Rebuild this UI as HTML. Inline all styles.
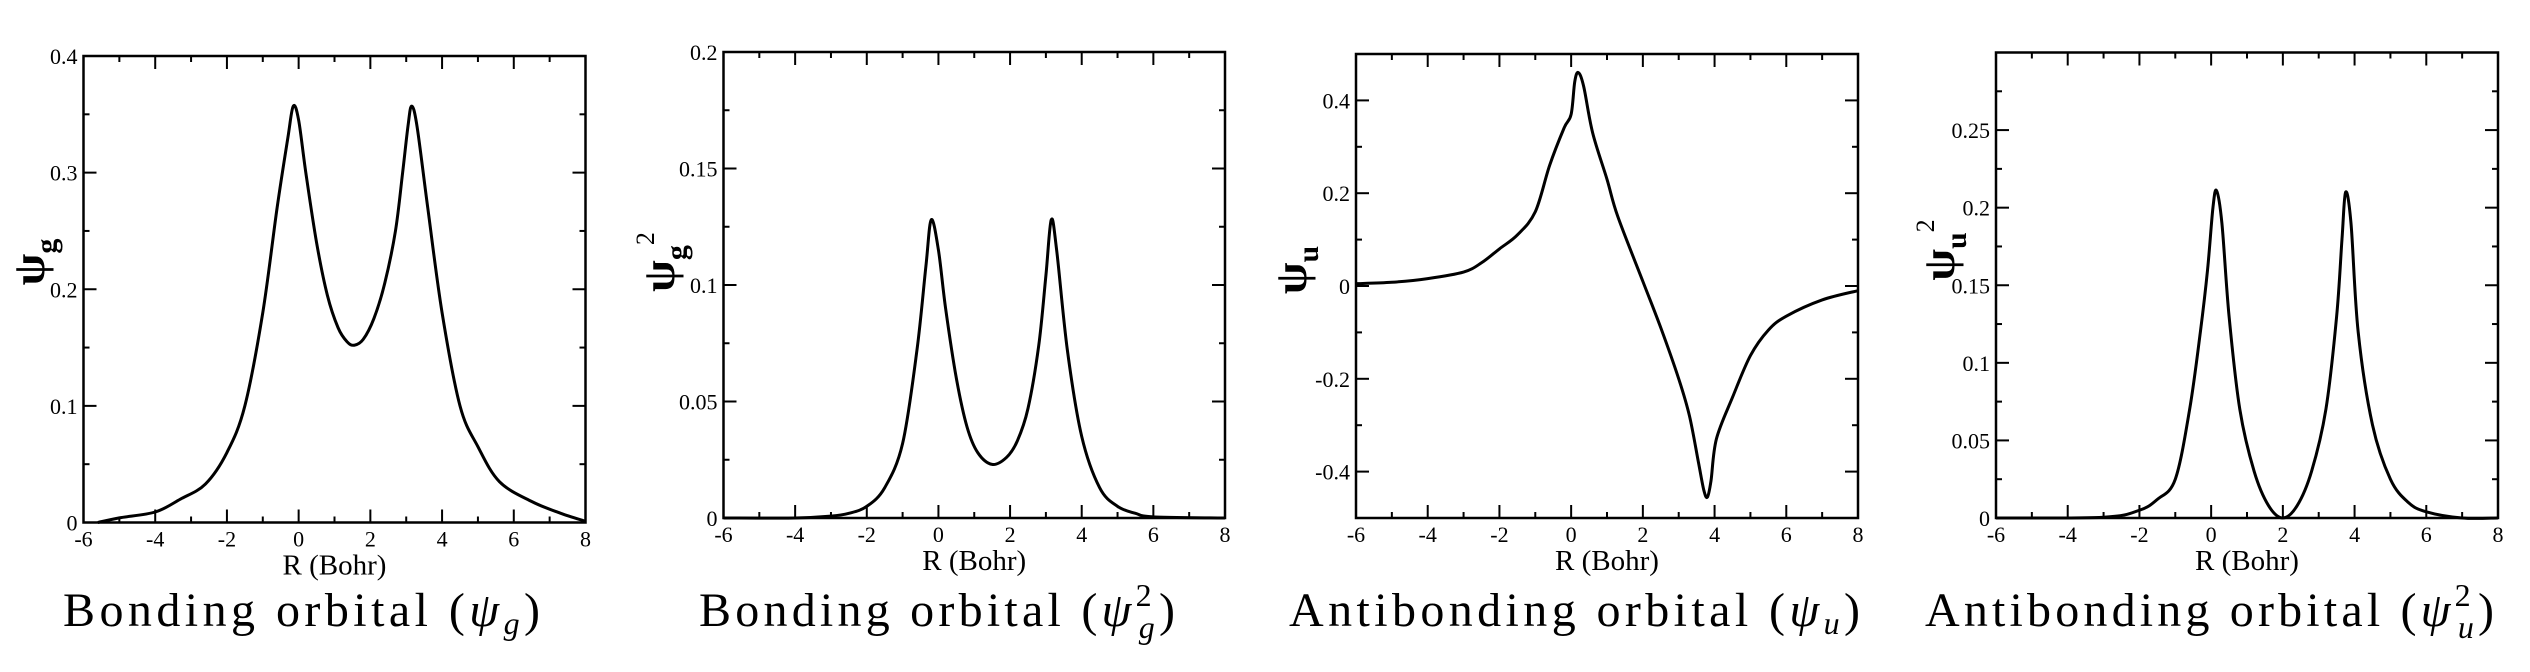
<!DOCTYPE html>
<html><head><meta charset="utf-8">
<style>
html,body{margin:0;padding:0;background:#fff;}
svg{display:block;}
text{font-family:"Liberation Serif","DejaVu Serif",serif;fill:#000;}
</style></head>
<body>
<svg id="fig" width="2530" height="672" viewBox="0 0 2530 672" xmlns="http://www.w3.org/2000/svg"></svg>
<script>
// ---- data (x in Bohr, y values) ----
const xG = [-5.6,-5,-4,-3.3,-2.6,-2,-1.5,-1,-0.6,-0.3,-0.15,0,0.2,0.5,0.8,1.1,1.35,1.55,1.8,2.1,2.4,2.7,2.9,3.05,3.15,3.3,3.6,4,4.5,5,5.6,6.5,7.3,8];
const yG = [0,0.004,0.009,0.02,0.033,0.06,0.1,0.18,0.27,0.33,0.357,0.345,0.3,0.24,0.195,0.167,0.155,0.152,0.157,0.175,0.205,0.25,0.3,0.34,0.357,0.34,0.27,0.18,0.1,0.065,0.035,0.018,0.008,0.001];
const xG2 = [-6,-4,-3,-2.5,-2,-1.5,-1,-0.6,-0.35,-0.2,0,0.2,0.5,0.8,1.1,1.5,1.9,2.2,2.5,2.8,3.0,3.15,3.3,3.6,4,4.5,5,5.5,6,8];
const yG2 = [0,0,0.0008,0.002,0.005,0.013,0.032,0.072,0.108,0.128,0.115,0.09,0.06,0.039,0.028,0.023,0.026,0.033,0.047,0.074,0.104,0.128,0.115,0.072,0.035,0.013,0.005,0.002,0.0005,0];
const xU = [-6,-5,-4,-3,-2.5,-2,-1.5,-1,-0.6,-0.2,0,0.1,0.2,0.35,0.6,1,1.3,2,2.5,3,3.3,3.55,3.7,3.8,3.9,4.05,4.5,5,5.5,6,7,8];
const yU = [0.005,0.008,0.016,0.03,0.05,0.08,0.11,0.16,0.26,0.34,0.37,0.44,0.46,0.43,0.33,0.23,0.15,0.01,-0.09,-0.2,-0.28,-0.38,-0.44,-0.455,-0.42,-0.33,-0.24,-0.15,-0.095,-0.065,-0.03,-0.01];
const xU2 = [-6,-3,-2,-1.5,-1,-0.6,-0.3,-0.1,0.05,0.15,0.3,0.5,0.8,1.2,1.6,2,2.4,2.8,3.2,3.5,3.65,3.75,3.9,4.1,4.5,5,5.5,6,7,8];
const yU2 = [0,0.0005,0.005,0.012,0.025,0.07,0.12,0.16,0.2,0.211,0.19,0.13,0.07,0.03,0.008,0,0.008,0.03,0.07,0.13,0.18,0.21,0.19,0.12,0.06,0.025,0.01,0.004,0,0];
const xTicks = [-6,-4,-2,0,2,4,6,8];
const yTicksG = ["0","0.1","0.2","0.3","0.4"];
const yTicksG2 = ["0","0.05","0.1","0.15","0.2"];
const yTicksU = ["-0.4","-0.2","0","0.2","0.4"];
const yTicksU2 = ["0","0.05","0.1","0.15","0.2","0.25"];

const NS="http://www.w3.org/2000/svg";
const svg=document.getElementById('fig');
function mk(tag,attrs,parent){const e=document.createElementNS(NS,tag);for(const k in attrs)e.setAttribute(k,attrs[k]);(parent||svg).appendChild(e);return e;}

const panels=[
 {id:'psi-g',L:83.5,R:585.5,T:56,B:522.5,ymin:0,ymax:0.4,ymaj:0.1,xs:xG,ys:yG,ticks:yTicksG,
  ylab:'g',sup:false,ylx:44,yly:262,title:'Bonding orbital (',tsub:'g',tsup:null,tx0:63,tx1:540},
 {id:'psi-g-sq',L:723.5,R:1225,T:52,B:518,ymin:0,ymax:0.2,ymaj:0.05,xs:xG2,ys:yG2,ticks:yTicksG2,
  ylab:'g',sup:true,ylx:674,yly:262,title:'Bonding orbital (',tsub:'g',tsup:'2',tx0:699,tx1:1175},
 {id:'psi-u',L:1356,R:1858,T:54,B:518,ymin:-0.5,ymax:0.5,ymaj:0.2,xs:xU,ys:yU,ticks:yTicksU,
  ylab:'u',sup:false,ylx:1306,yly:270,title:'Antibonding orbital (',tsub:'u',tsup:null,tx0:1289,tx1:1860},
 {id:'psi-u-sq',L:1996,R:2498,T:52.5,B:518,ymin:0,ymax:0.3,ymaj:0.05,xs:xU2,ys:yU2,ticks:yTicksU2,
  ylab:'u',sup:true,ylx:1954,yly:250,title:'Antibonding orbital (',tsub:'u',tsup:'2',tx0:1925,tx1:2494}
];

function smoothPath(pts){
  let d='M'+pts[0][0].toFixed(2)+','+pts[0][1].toFixed(2);
  for(let i=0;i<pts.length-1;i++){
    const p0=pts[Math.max(0,i-1)],p1=pts[i],p2=pts[i+1],p3=pts[Math.min(pts.length-1,i+2)];
    const c1x=p1[0]+(p2[0]-p0[0])/6,c1y=p1[1]+(p2[1]-p0[1])/6;
    const c2x=p2[0]-(p3[0]-p1[0])/6,c2y=p2[1]-(p3[1]-p1[1])/6;
    d+=' C'+c1x.toFixed(2)+','+c1y.toFixed(2)+' '+c2x.toFixed(2)+','+c2y.toFixed(2)+' '+p2[0].toFixed(2)+','+p2[1].toFixed(2);
  }
  return d;
}

panels.forEach(p=>{
  const g=mk('g',{});
  
  
  const sx=v=>p.L+(v-(-6))/(14)*(p.R-p.L);
  const sy=v=>p.B-(v-p.ymin)/(p.ymax-p.ymin)*(p.B-p.T);
  const fr=mk('rect',{x:p.L,y:p.T,width:p.R-p.L,height:p.B-p.T,fill:'none',stroke:'#000','stroke-width':2.5},g);
  
  
  for(let v=-6;v<=8;v+=1){
    const major=(v%2===0);const len=major?13:6;const x=sx(v);
    mk('line',{x1:x,y1:p.B,x2:x,y2:p.B-len,stroke:'#000','stroke-width':2},g);
    mk('line',{x1:x,y1:p.T,x2:x,y2:p.T+len,stroke:'#000','stroke-width':2},g);
  }
  xTicks.forEach(v=>{
    const t=mk('text',{x:sx(v),y:p.B+24,'text-anchor':'middle','font-size':22},g);
    t.textContent=String(v);
    
    
  });
  const half=p.ymaj/2;
  for(let k=0;;k++){
    const v=p.ymin+k*half; if(v>p.ymax+1e-9)break;
    let isMaj;
    if(p.id==='psi-u'){isMaj=Math.abs(Math.round(v/0.2)*0.2-v)<1e-6;}else{isMaj=(k%2===0);}
    const len=isMaj?13:6;const y=sy(v);
    mk('line',{x1:p.L,y1:y,x2:p.L+len,y2:y,stroke:'#000','stroke-width':2},g);
    mk('line',{x1:p.R,y1:y,x2:p.R-len,y2:y,stroke:'#000','stroke-width':2},g);
  }
  p.ticks.forEach(s=>{
    const t=mk('text',{x:p.L-6,y:sy(parseFloat(s))+8,'text-anchor':'end','font-size':22},g);
    t.textContent=s;
    
    
  });
  const pts=p.xs.map((x,i)=>[sx(x),sy(p.ys[i])]);
  const c=mk('path',{d:smoothPath(pts),fill:'none',stroke:'#000','stroke-width':3,'stroke-linejoin':'round'},g);
  
  
  const xt=mk('text',{x:(p.L+p.R)/2,y:p.B+52,'text-anchor':'middle','font-size':29},g);
  xt.textContent='R (Bohr)';
  
  
  const yt=mk('text',{transform:'translate('+p.ylx+','+p.yly+') rotate(-90)','text-anchor':'middle','font-size':46,'font-weight':'bold'},g);
  
  
  const a=mk('tspan',{},yt);a.textContent='ψ';
  const b=mk('tspan',{'font-size':30,dy:12},yt);b.textContent=p.ylab;
  if(p.sup){const s=mk('tspan',{'font-size':26,'font-weight':'normal',dy:-32},yt);s.textContent='2';}
  const tt=mk('text',{x:p.tx0,y:626,'font-size':48,textLength:p.tx1-p.tx0,lengthAdjust:'spacing'},g);
  
  
  const t1=mk('tspan',{},tt);t1.textContent=p.title;
  const t2=mk('tspan',{'font-style':'italic'},tt);t2.textContent='ψ';
  if(p.tsup){
    const t3=mk('tspan',{'font-size':32,dy:-20},tt);t3.textContent=p.tsup;
    const t4=mk('tspan',{'font-size':32,'font-style':'italic',dx:-17,dy:32},tt);t4.textContent=p.tsub;
    const t5=mk('tspan',{dy:-12},tt);t5.textContent=')';
  }else{
    const t4=mk('tspan',{'font-size':32,'font-style':'italic',dy:8},tt);t4.textContent=p.tsub;
    const t5=mk('tspan',{dy:-8},tt);t5.textContent=')';
  }
});
</script>
</body></html>
